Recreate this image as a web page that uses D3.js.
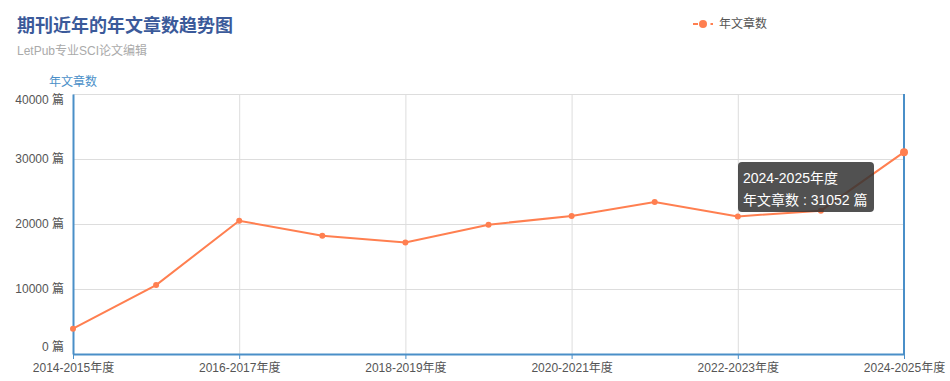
<!DOCTYPE html>
<html>
<head>
<meta charset="utf-8">
<script src="https://cdn.jsdelivr.net/npm/d3@7"></script>
<style>
  body { margin: 0; background: #fff; }
  svg text { font-family: "Liberation Sans", Arial, "Noto Sans CJK SC", sans-serif; }
</style>
</head>
<body>
<div id="chart"></div>
<script>
// data
var years = ["2014-2015年度","2015-2016年度","2016-2017年度","2017-2018年度","2018-2019年度",
             "2019-2020年度","2020-2021年度","2021-2022年度","2022-2023年度","2023-2024年度","2024-2025年度"];
var counts = [3900, 10600, 20500, 18200, 17170, 19900, 21230, 23380, 21170, 22050, 31052];
var yTicks = [0, 10000, 20000, 30000, 40000];
var seriesName = "年文章数";

var width = 950, height = 381;
var plotL = 73, plotR = 904, plotT = 94, plotB = 354;
var lineColor = "#ff7f50", axisColor = "#4a8fc8";

var svg = d3.select("#chart").append("svg")
    .attr("width", width)
    .attr("height", height)

var x = d3.scalePoint().domain(years).range([plotL, plotR])
var y = d3.scaleLinear().domain([0, 40000]).range([plotB, plotT])

// title
svg.append("text").attr("x", 17).attr("y", 32)
    .text("期刊近年的年文章数趋势图")
    .style("font-size", "18px").style("font-weight", "bold").style("fill", "#3b5a9a")
svg.append("text").attr("x", 17).attr("y", 55)
    .text("LetPub专业SCI论文编辑")
    .style("font-size", "12px").style("fill", "#aaa")

// legend
var lg = svg.append("g").attr("transform", "translate(693,24)")
lg.append("line").attr("x1", 0).attr("x2", 20).attr("y1", 0).attr("y2", 0)
    .attr("stroke", lineColor).attr("stroke-width", 2).attr("stroke-dasharray", "5,2.5,5")
lg.append("circle").attr("cx", 10).attr("cy", 0).attr("r", 4).attr("fill", lineColor)
lg.append("text").attr("x", 26).attr("y", 4).text(seriesName)
    .style("font-size", "12px").style("fill", "#555")

// grid
var xLabeled = years.filter(function(d, i) { return i % 2 == 0 })
svg.append("g").selectAll("line").data(yTicks).join("line")
    .attr("x1", plotL).attr("x2", plotR)
    .attr("y1", function(d) { return y(d) + 0.5 }).attr("y2", function(d) { return y(d) + 0.5 })
    .attr("stroke", "#ddd").attr("stroke-width", 1)
svg.append("g").selectAll("line").data(xLabeled).join("line")
    .attr("x1", function(d) { return x(d) + 0.5 }).attr("x2", function(d) { return x(d) + 0.5 })
    .attr("y1", plotT).attr("y2", plotB)
    .attr("stroke", "#ddd").attr("stroke-width", 1)

// axes
var yAxis = svg.append("g").attr("transform", "translate(" + plotL + ",0)")
    .call(d3.axisLeft(y).tickValues(yTicks).tickSize(0).tickPadding(9)
        .tickFormat(function(d) { return d + " 篇" }))
yAxis.select(".domain").attr("stroke", axisColor).attr("stroke-width", 2)
yAxis.selectAll("text").style("font-size", "12px").style("fill", "#555")
// edge labels are pushed inside the plot, like the original
yAxis.selectAll(".tick text").attr("dy", function(d) {
    return d == 0 ? "-0.3em" : (d == 40000 ? "0.75em" : "0.32em")
})

svg.append("text").attr("x", 73).attr("y", 86).attr("text-anchor", "middle")
    .text(seriesName).style("font-size", "12px").style("fill", axisColor)

var xAxis = svg.append("g").attr("transform", "translate(0," + plotB + ")")
    .call(d3.axisBottom(x).tickValues(xLabeled).tickSize(5).tickPadding(4).tickSizeOuter(0))
xAxis.select(".domain").attr("stroke", axisColor).attr("stroke-width", 2)
xAxis.selectAll(".tick line").attr("stroke", axisColor)
xAxis.selectAll("text").style("font-size", "12px").style("fill", "#555")

// axis pointer at hovered category
var hover = years.length - 1
svg.append("line")
    .attr("x1", x(years[hover])).attr("x2", x(years[hover]))
    .attr("y1", plotT).attr("y2", plotB)
    .attr("stroke", axisColor).attr("stroke-width", 2)

// series
var line = d3.line()
    .x(function(d, i) { return x(years[i]) })
    .y(function(d) { return y(d) })
svg.append("path").datum(counts)
    .attr("d", line)
    .attr("fill", "none").attr("stroke", lineColor).attr("stroke-width", 2)
svg.append("g").selectAll("circle").data(counts).join("circle")
    .attr("cx", function(d, i) { return x(years[i]) })
    .attr("cy", function(d) { return y(d) })
    .attr("r", function(d, i) { return i == hover ? 4 : 3 })
    .attr("fill", lineColor)

// tooltip
var tip = svg.append("g").attr("transform", "translate(738,162)")
tip.append("rect").attr("width", 136).attr("height", 50).attr("rx", 4)
    .attr("fill", "rgba(50,50,50,0.85)")
tip.append("text").attr("x", 5).attr("y", 21).text(years[hover])
    .style("font-size", "14px").style("fill", "#fff")
tip.append("text").attr("x", 5).attr("y", 43).text(seriesName + " : " + counts[hover] + " 篇")
    .style("font-size", "14px").style("fill", "#fff")
</script>
</body>
</html>
